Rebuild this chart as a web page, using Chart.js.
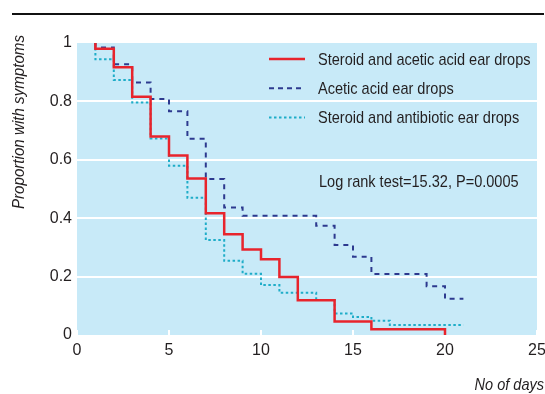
<!DOCTYPE html>
<html><head><meta charset="utf-8">
<script src="https://cdn.jsdelivr.net/npm/chart.js@4/dist/chart.umd.min.js"></script>
<style>html,body{margin:0;padding:0;background:#fff;}#wrap{width:545px;height:394px;}</style>
</head><body><div id="wrap"><canvas id="c" width="545" height="394"></canvas></div>
<script>
// ---- data ----
const seriesNames = ['Steroid and acetic acid ear drops', 'Acetic acid ear drops', 'Steroid and antibiotic ear drops'];

const steroidAceticDays = [1, 1, 2, 3, 4, 5, 6, 7, 8, 9, 10, 11, 12, 14, 16, 20];
const steroidAceticProp = [1, 0.98, 0.917, 0.816, 0.68, 0.615, 0.536, 0.417, 0.345, 0.293, 0.259, 0.199, 0.119, 0.046, 0.02, 0];

const aceticDays = [1, 1, 2, 3, 4, 5, 6, 7, 8, 9, 13, 14, 15, 16, 19, 20, 21];
const aceticProp = [1, 0.985, 0.927, 0.865, 0.808, 0.766, 0.672, 0.534, 0.437, 0.408, 0.374, 0.308, 0.268, 0.209, 0.167, 0.124, 0.124];

const steroidAntibioticDays = [1, 1, 2, 3, 4, 5, 6, 7, 8, 9, 10, 11, 13, 14, 15, 16, 17, 21];
const steroidAntibioticProp = [1, 0.944, 0.873, 0.796, 0.673, 0.58, 0.47, 0.325, 0.254, 0.21, 0.171, 0.145, 0.12, 0.074, 0.062, 0.049, 0.034, 0.034];

const xTickLabels = ['0', '5', '10', '15', '20', '25'];
const yTickLabels = ['0', '0.2', '0.4', '0.6', '0.8', '1'];
const xTitle = 'No of days';
const yTitle = 'Proportion with symptoms';
const annotationText = 'Log rank test=15.32, P=0.0005';

// ---- styling ----
const FONT = '"Liberation Sans", Arial, sans-serif';
const FS = 17;
const SX = 0.855;
const TEXT = '#231f20';
const PLOT_BG = '#c8eaf8';

const toPts = (xs, ys) => xs.map((x, i) => ({ x: x, y: ys[i] }));

function drawText(ctx, text, x, y, align, italic, sx, size) {
  ctx.save();
  ctx.translate(x, y);
  ctx.scale(sx, 1);
  ctx.font = (italic ? 'italic ' : '') + (size || FS) + 'px ' + FONT;
  ctx.fillStyle = TEXT;
  ctx.textAlign = align;
  ctx.textBaseline = 'middle';
  ctx.fillText(text, 0, 0);
  ctx.restore();
}

const decor = {
  id: 'decor',
  beforeDraw(chart) {
    const { ctx, chartArea: a } = chart;
    ctx.save();
    ctx.fillStyle = PLOT_BG;
    ctx.fillRect(a.left, a.top, a.right - a.left, a.bottom - a.top);
    ctx.strokeStyle = '#111';
    ctx.lineWidth = 2;
    ctx.beginPath();
    ctx.moveTo(12, 14);
    ctx.lineTo(544, 14);
    ctx.stroke();
    ctx.restore();
  },
  beforeDatasetsDraw(chart) {
    const { ctx, chartArea: a, scales } = chart;
    ctx.save();
    ctx.strokeStyle = '#ffffff';
    ctx.lineWidth = 2;
    scales.x.ticks.forEach(t => {
      const px = Math.round(scales.x.getPixelForValue(t.value));
      ctx.beginPath();
      ctx.moveTo(px, a.bottom);
      ctx.lineTo(px, a.bottom - 5);
      ctx.stroke();
    });
    ctx.restore();
  },
  afterDraw(chart) {
    const { ctx } = chart;
    const ds = chart.data.datasets;
    ds.forEach((d, i) => {
      const y = 59 + i * 29.3;
      ctx.save();
      ctx.strokeStyle = d.borderColor;
      ctx.lineWidth = d.borderWidth;
      ctx.setLineDash(d.legendDash || []);
      ctx.beginPath();
      ctx.moveTo(269, y);
      ctx.lineTo(305, y);
      ctx.stroke();
      ctx.restore();
      drawText(ctx, d.label, 318, y + 1, 'left', false, SX);
    });
    drawText(ctx, annotationText, 319, 182, 'left', false, SX);
    drawText(ctx, xTitle, 544, 385, 'right', true, SX);
    ctx.save();
    ctx.translate(19, 35);
    ctx.rotate(-Math.PI / 2);
    drawText(ctx, yTitle, 0, 0, 'right', true, 0.89);
    ctx.restore();
  }
};

new Chart(document.getElementById('c'), {
  type: 'line',
  data: {
    datasets: [
      {
        label: seriesNames[0],
        data: toPts(steroidAceticDays, steroidAceticProp),
        borderColor: '#e8242c',
        borderWidth: 2.5,
        stepped: true,
        pointRadius: 0,
        fill: false,
        order: 0
      },
      {
        label: seriesNames[1],
        data: toPts(aceticDays, aceticProp),
        borderColor: '#2d3a8f',
        borderWidth: 2,
        borderDash: [5, 5],
        legendDash: [5, 4],
        stepped: true,
        pointRadius: 0,
        fill: false,
        order: 1
      },
      {
        label: seriesNames[2],
        data: toPts(steroidAntibioticDays, steroidAntibioticProp),
        borderColor: '#1fadc8',
        borderWidth: 2,
        borderDash: [2.5, 2.5],
        legendDash: [2.5, 2.5],
        stepped: true,
        pointRadius: 0,
        fill: false,
        order: 2
      }
    ]
  },
  options: {
    responsive: false,
    animation: false,
    devicePixelRatio: 1,
    layout: { padding: { top: 43, right: 8, left: 0, bottom: 0 } },
    plugins: { legend: { display: false }, tooltip: { enabled: false } },
    scales: {
      x: {
        type: 'linear',
        min: 0, max: 25,
        afterFit(s) { s.height = 59; s.paddingLeft = 0; s.paddingRight = 0; },
        border: { display: false },
        grid: { display: false, drawTicks: false },
        ticks: {
          stepSize: 5,
          padding: 6,
          color: TEXT,
          font: { family: FONT, size: 16 },
          maxRotation: 0,
          callback: (v, i) => xTickLabels[i]
        }
      },
      y: {
        type: 'linear',
        min: 0, max: 1,
        afterFit(s) { s.width = 77; s.paddingTop = 0; s.paddingBottom = 0; },
        border: { display: false },
        grid: {
          drawTicks: false,
          lineWidth: 2,
          color: (c) => (c.index === 0 || c.index === yTickLabels.length - 1) ? 'rgba(0,0,0,0)' : '#ffffff'
        },
        ticks: {
          stepSize: 0.2,
          padding: 5,
          color: TEXT,
          font: { family: FONT, size: 16 },
          callback: (v, i) => yTickLabels[i]
        }
      }
    }
  },
  plugins: [decor]
});
</script>
</body></html>
